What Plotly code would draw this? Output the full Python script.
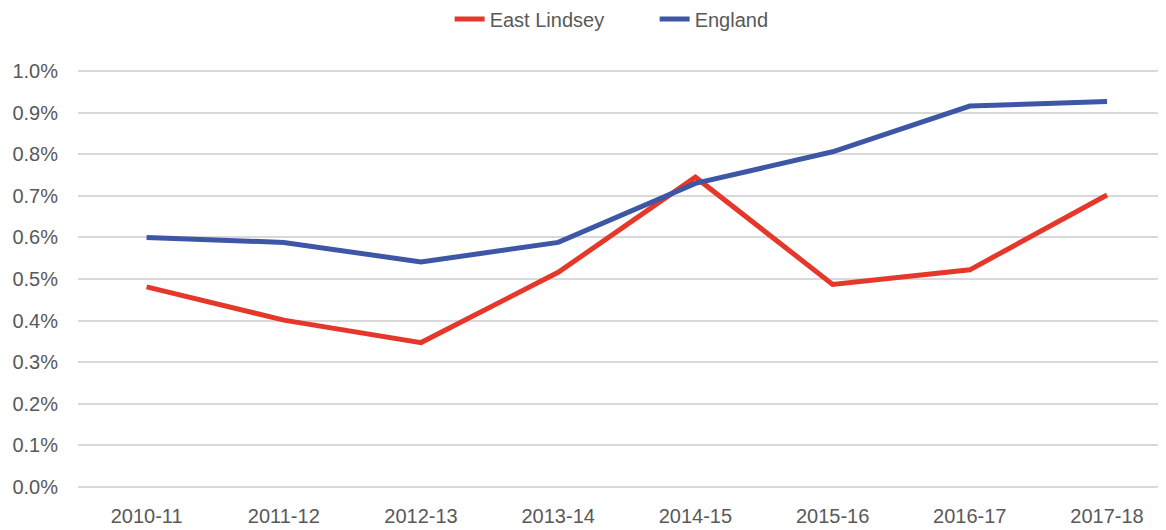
import plotly.graph_objects as go

years = ["2010-11", "2011-12", "2012-13", "2013-14", "2014-15", "2015-16", "2016-17", "2017-18"]
east_lindsey = [0.00481, 0.00401, 0.00347, 0.00516, 0.00745, 0.00487, 0.00522, 0.00702]
england = [0.00600, 0.00588, 0.00541, 0.00588, 0.00730, 0.00806, 0.00916, 0.00927]
y_ticks = [i / 1000 for i in range(0, 11)]

FONT = "Liberation Sans, Arial, sans-serif"
GREY = "#595959"

fig = go.Figure()
fig.add_trace(go.Scatter(x=years, y=east_lindsey, name="East Lindsey", mode="lines",
                         line=dict(color="#E5372A", width=5)))
fig.add_trace(go.Scatter(x=years, y=england, name="England", mode="lines",
                         line=dict(color="#3E56A6", width=5)))

fig.update_layout(
    width=1158, height=522,
    margin=dict(l=70, r=0, t=59, b=39, autoexpand=False),
    paper_bgcolor="white", plot_bgcolor="white",
    font=dict(family=FONT, size=20, color=GREY),
    showlegend=True,
    legend=dict(orientation="h", x=0.530, xanchor="center", y=0.979, yref="container", yanchor="middle",
                font=dict(size=20, color=GREY), itemwidth=30, traceorder="normal",
                entrywidth=160),
    xaxis=dict(type="category", automargin=False, showgrid=False, showline=False, zeroline=False,
               ticks="", tickfont=dict(size=20, color=GREY), ticklabelstandoff=11,
               range=[-0.5, 7.43]),
    yaxis=dict(automargin=False, range=[-0.0001, 0.0101], tickvals=y_ticks, tickformat=".1%",
               showgrid=True, gridcolor="#D9D9D9", gridwidth=2, zeroline=False, showline=False,
               ticks="", tickfont=dict(size=20, color=GREY), ticklabelstandoff=19),
)

fig.write_html("out.html")
